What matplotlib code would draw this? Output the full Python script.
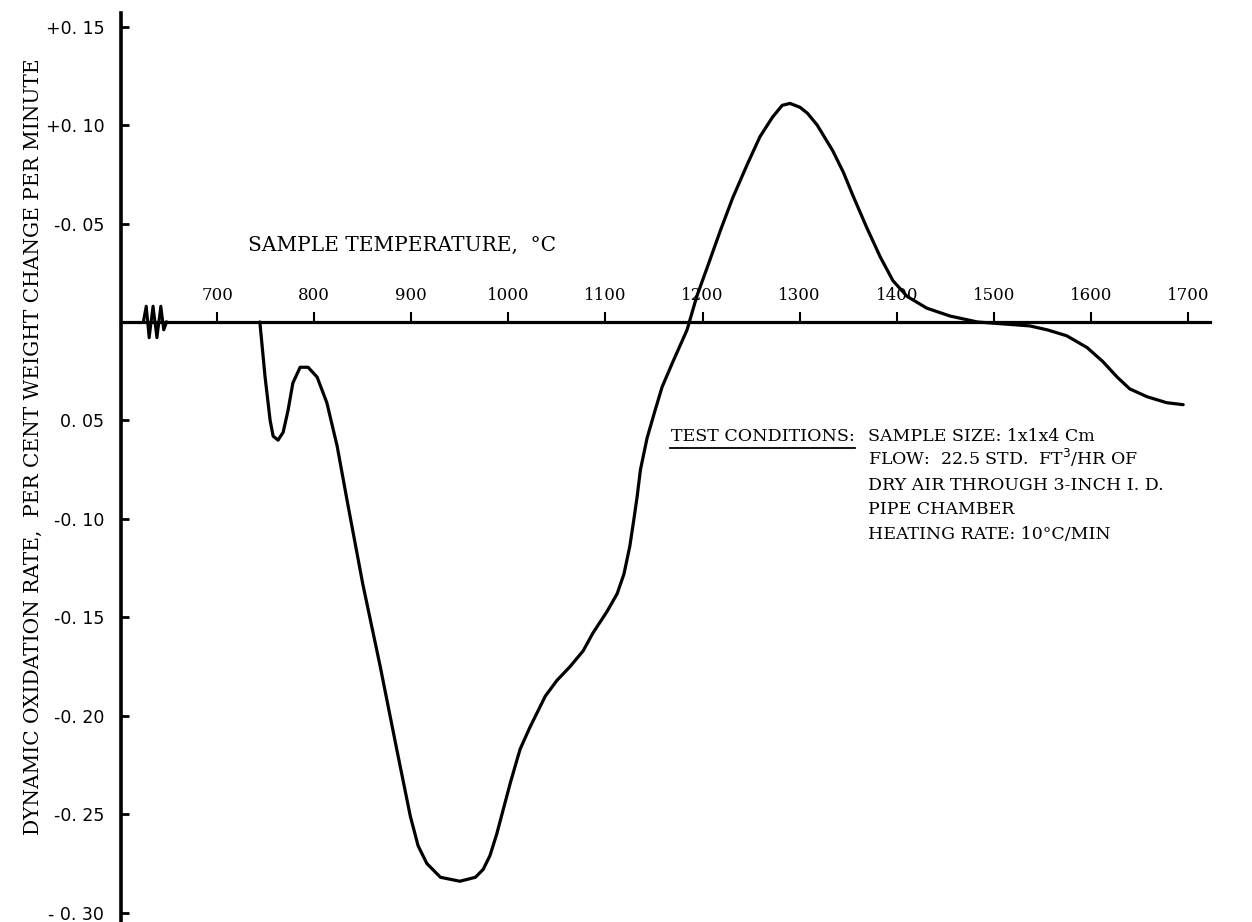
import matplotlib
matplotlib.use("Agg")
import matplotlib.pyplot as plt

plt.rcParams['font.family'] = ['DejaVu Serif']

# oxidation rate curve, temperature (C) vs per cent weight change per minute
temp = [744, 749.4, 754.6, 757.7, 762.8, 768, 773, 778, 785.5, 793.7, 803,
        813, 823.6, 834, 842, 850, 868, 885, 899, 907, 916, 930, 950, 966, 974,
        981, 988, 1002, 1012, 1022, 1038, 1050, 1063.5, 1077, 1087, 1101.6,
        1112, 1119, 1125, 1129, 1132.5, 1136, 1142.8, 1151, 1158.3, 1169.6,
        1184, 1194, 1205, 1218, 1231, 1246, 1259, 1272, 1282, 1290, 1300.4,
        1308, 1318, 1334, 1345, 1355, 1369, 1383, 1396, 1410.6, 1431, 1455,
        1483, 1510, 1537, 1555, 1575, 1596, 1612, 1627, 1640, 1658, 1678, 1695]
rate = [0.0, -0.028, -0.050, -0.058, -0.060, -0.056, -0.045, -0.031, -0.023,
        -0.023, -0.028, -0.041, -0.063, -0.091, -0.112, -0.133, -0.175, -0.217,
        -0.251, -0.266, -0.275, -0.282, -0.284, -0.282, -0.278, -0.271, -0.260,
        -0.234, -0.217, -0.206, -0.190, -0.182, -0.175, -0.167, -0.158, -0.147,
        -0.138, -0.128, -0.114, -0.101, -0.089, -0.075, -0.059, -0.045, -0.033,
        -0.020, -0.004, 0.013, 0.028, 0.046, 0.063, 0.080, 0.094, 0.104, 0.110,
        0.111, 0.109, 0.106, 0.100, 0.087, 0.076, 0.064, 0.048, 0.033, 0.021,
        0.013, 0.007, 0.003, 0.0, -0.001, -0.002, -0.004, -0.007, -0.013,
        -0.020, -0.028, -0.034, -0.038, -0.041, -0.042]

xticks = [700, 800, 900, 1000, 1100, 1200, 1300, 1400, 1500, 1600, 1700]
yticks = [0.15, 0.10, 0.05, -0.05, -0.10, -0.15, -0.20, -0.25, -0.30]
ytick_labels = ['+0. 15', '+0. 10', '-0. 05', '0. 05', '-0. 10', '-0. 15',
                '-0. 20', '-0. 25', '- 0. 30']

conditions = ['SAMPLE SIZE: 1x1x4 Cm',
              'FLOW:  22.5 STD.  FT$^3$/HR OF',
              'DRY AIR THROUGH 3-INCH I. D.',
              'PIPE CHAMBER',
              'HEATING RATE: 10\u00b0C/MIN']

fig = plt.figure(figsize=(12.52, 9.22), dpi=100)
ax = fig.add_axes([121 / 1252, 0.0, (1210 - 121) / 1252, 1 - 13 / 922])
ax.set_xlim(601, 1722.6)
ax.set_ylim(-0.3047, 0.1569)

ax.plot(temp, rate, color='black', lw=2.3, solid_capstyle='round',
        solid_joinstyle='round')

# axis break on the temperature scale
brk_x = [624, 627, 630, 634, 638, 642, 645, 648]
brk_y = [0, 0.008, -0.008, 0.008, -0.008, 0.008, -0.004, 0]
ax.plot(brk_x, brk_y, color='black', lw=2.2)

# temperature axis runs through zero, ticks and labels above it
for s in ['right', 'bottom']:
    ax.spines[s].set_visible(False)
ax.spines['top'].set_position(('data', 0))
ax.spines['top'].set_linewidth(2.3)
ax.spines['left'].set_linewidth(2.6)
ax.xaxis.tick_top()
ax.set_xticks(xticks)
ax.set_xticklabels([str(t) for t in xticks])
ax.tick_params(axis='x', direction='out', length=7, width=1.5, pad=6,
               labelsize=12)
ax.set_yticks(yticks)
ax.set_yticklabels(ytick_labels, family='DejaVu Sans')
ax.tick_params(axis='y', direction='in', length=6, width=2, pad=12,
               labelsize=12.5)

ax.text(732, 0.036, 'SAMPLE TEMPERATURE,  \u00b0C', fontsize=14.5,
        va='baseline', ha='left')

ax.text(1167, -0.0605, 'TEST CONDITIONS:', fontsize=12.6, va='baseline',
        ha='left')
ax.plot([1166.5, 1357], [-0.0638, -0.0638], color='black', lw=1.3)
for i, line in enumerate(conditions):
    ax.text(1370, -0.0604 - i * 0.01245, line, fontsize=12.5, va='baseline',
            ha='left')

fig.text(33 / 1252, 1 - 447 / 922,
         'DYNAMIC OXIDATION RATE,  PER CENT WEIGHT CHANGE PER MINUTE',
         rotation=90, ha='center', va='center', fontsize=14.5)

fig.savefig('out.png', dpi=100)
